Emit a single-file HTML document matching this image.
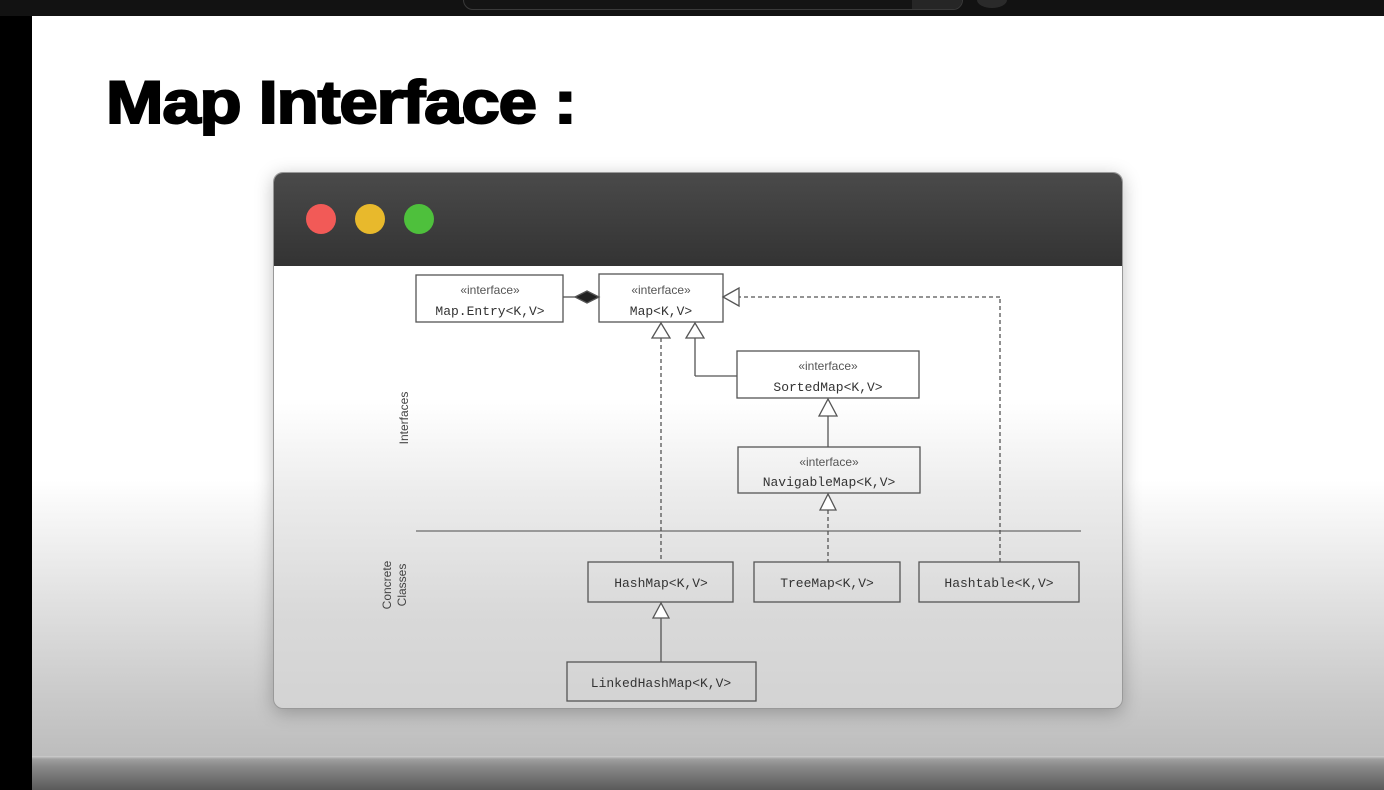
<!DOCTYPE html>
<html><head><meta charset="utf-8"><style>
html,body{margin:0;padding:0;}
body{width:1384px;height:790px;position:relative;overflow:hidden;
background:linear-gradient(#fff 0,#fff 480px,#e6e6e6 580px,#c9c9c9 700px,#bdbdbd 755px);
font-family:"Liberation Sans",sans-serif;}
.topbar{position:absolute;left:0;top:0;width:1384px;height:16px;background:#121212;}
.search{position:absolute;left:463px;top:-10px;width:498px;height:18px;border:1px solid #3a3a3a;border-radius:12px;background:#141414;}
.search i{position:absolute;right:0;top:0;width:50px;height:18px;background:#262626;border-radius:0 12px 12px 0;}
.mic{position:absolute;left:977px;top:-8px;width:30px;height:16px;border-radius:50%;background:#2a2a2a;}
.left{position:absolute;left:0;top:16px;width:32px;height:774px;background:#000;}
.bottom{position:absolute;left:0;top:756px;width:1384px;height:34px;background:linear-gradient(#cfcfcf 0,#a0a0a0 3px,#8a8a8a 10px,#5a5a5a 34px);}
.bottom:before{content:"";position:absolute;left:0;top:0;width:32px;height:34px;background:#000;}
h1{position:absolute;left:106px;top:68px;margin:0;font-size:60px;font-weight:900;letter-spacing:-1px;transform:scaleX(1.15);transform-origin:left;color:#000;-webkit-text-stroke:2px #000;font-family:"Liberation Sans",sans-serif;white-space:nowrap;}
.win{position:absolute;left:273px;top:172px;width:850px;height:537px;border-radius:10px;overflow:hidden;
box-shadow:0 4px 18px rgba(0,0,0,.25);background:linear-gradient(#fff 0,#fff 230px,#ececec 320px,#d9d9d9 440px,#d3d3d3 537px);border:1px solid #999;box-sizing:border-box;}
.tb{position:absolute;left:0;top:0;width:850px;height:93px;background:linear-gradient(#4a4a4a,#333);}
.dot{position:absolute;top:31px;width:30px;height:30px;border-radius:50%;}
</style></head><body>
<div class="topbar"><div class="search"><i></i></div><div class="mic"></div></div>
<div class="left"></div>
<h1>Map Interface :</h1>
<div class="win"><div class="tb">
<div class="dot" style="left:32px;background:#f25a57"></div>
<div class="dot" style="left:81px;background:#e8b92c"></div>
<div class="dot" style="left:130px;background:#4ec03c"></div>
</div></div>
<svg style="position:absolute;left:0;top:0" width="1384" height="790" font-family="Liberation Mono,monospace">
<g fill="none" stroke="#555" stroke-width="1.3">
<rect x="416" y="275" width="147" height="47"/>
<rect x="599" y="274" width="124" height="48"/>
<rect x="737" y="351" width="182" height="47"/>
<rect x="738" y="447" width="182" height="46"/>
<rect x="588" y="562" width="145" height="40"/>
<rect x="754" y="562" width="146" height="40"/>
<rect x="919" y="562" width="160" height="40"/>
<rect x="567" y="662" width="189" height="39"/>
<line x1="416" y1="531" x2="1081" y2="531" stroke="#999" stroke-width="2"/>
<line x1="563" y1="297" x2="575" y2="297"/>
<line x1="695" y1="338" x2="695" y2="376"/><line x1="695" y1="376" x2="737" y2="376"/>
<line x1="828" y1="416" x2="828" y2="447"/>
<line x1="661" y1="618" x2="661" y2="662"/>
<g stroke-dasharray="4,3">
<line x1="661" y1="338" x2="661" y2="562"/>
<line x1="828" y1="510" x2="828" y2="562"/>
<line x1="1000" y1="562" x2="1000" y2="297"/>
<line x1="1000" y1="297" x2="738" y2="297"/>
</g>
<g fill="#fff">
<polygon points="661,323 652,338 670,338"/>
<polygon points="695,323 686,338 704,338"/>
<polygon points="828,399 819,416 837,416"/>
<polygon points="828,494 820,510 836,510"/>
<polygon points="661,603 653,618 669,618"/>
<polygon points="723,297 739,288 739,306"/>
</g>
<polygon points="575,297 587,291 599,297 587,303" fill="#222"/>
</g>
<g fill="#333" font-size="13" text-anchor="middle">
<g font-family="Liberation Sans,sans-serif" font-size="12" fill="#555">
<text x="490" y="294">«interface»</text>
<text x="661" y="294">«interface»</text>
<text x="828" y="370">«interface»</text>
<text x="829" y="466">«interface»</text>
</g>
<text x="490" y="315">Map.Entry&lt;K,V&gt;</text>
<text x="661" y="315">Map&lt;K,V&gt;</text>
<text x="828" y="391">SortedMap&lt;K,V&gt;</text>
<text x="829" y="486">NavigableMap&lt;K,V&gt;</text>
<text x="661" y="587">HashMap&lt;K,V&gt;</text>
<text x="827" y="587">TreeMap&lt;K,V&gt;</text>
<text x="999" y="587">Hashtable&lt;K,V&gt;</text>
<text x="661" y="687">LinkedHashMap&lt;K,V&gt;</text>
<g font-family="Liberation Sans,sans-serif" font-size="12" fill="#444">
<text transform="translate(408,418) rotate(-90)">Interfaces</text>
<text transform="translate(391,585) rotate(-90)">Concrete</text>
<text transform="translate(406,585) rotate(-90)">Classes</text>
</g>
</g>
</svg>
<div class="bottom"></div>
</body></html>
